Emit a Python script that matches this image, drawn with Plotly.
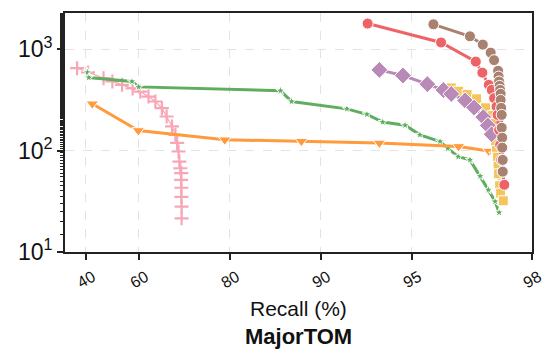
import numpy as np
import plotly.graph_objects as go

# ---- data ----
red_recall = [93.0, 96.0, 96.93, 97.08, 97.22, 97.28, 97.33, 97.38, 97.40, 97.43, 97.45, 97.47, 97.50, 97.53]
red_lat = [1790, 1165, 755, 587, 445, 397, 329, 272, 225, 160, 114, 81, 62, 46]

brown_recall = [95.76, 96.79, 97.09, 97.26, 97.33, 97.41, 97.42, 97.43, 97.44, 97.45, 97.46, 97.46, 97.47, 97.48, 97.48, 97.49, 97.49, 97.50, 97.50]
brown_lat = [1760, 1340, 1110, 925, 780, 612, 537, 480, 435, 397, 363, 316, 264, 225, 168, 134, 107, 81, 62]

purple_recall = [93.6, 94.65, 95.56, 96.07, 96.3, 96.67, 96.89, 97.1, 97.2, 97.28]
purple_lat = [625, 550, 452, 396, 362, 312, 266, 214, 177, 145]

yellow_recall = [96.3, 96.5, 96.72, 96.95, 97.15, 97.3, 97.33, 97.35, 97.36, 97.38, 97.4, 97.41, 97.42, 97.44, 97.46, 97.51]
yellow_lat = [415, 385, 357, 324, 264, 222, 185, 150, 117, 100, 86, 70, 59, 45, 38, 32]

orange_recall = [42.9, 59.8, 79.2, 88.4, 93.6, 96.5, 97.22, 97.35]
orange_lat = [290, 158, 128, 124, 119, 110, 99, 91]

green_recall = [40.8, 41.4, 57.8, 59.9, 86.4, 87.5, 91.8, 92.96, 93.76, 94.74, 95.3, 95.97, 96.2, 96.49, 96.79, 97.03, 97.21, 97.35, 97.43]
green_lat = [590, 525, 480, 425, 390, 305, 258, 228, 191, 178, 143, 123, 105, 87, 81, 56, 41, 31.5, 24.5]

pink_recall = [35.9, 41.0, 47.6, 51.0, 54.5, 58.0, 60.4, 62.8, 64.7, 66.4, 67.6, 68.9, 69.7, 70.1, 70.4, 70.6, 70.8, 71.0, 71.0, 71.05, 71.05, 71.1, 71.1]
pink_lat = [650, 590, 518, 480, 445, 410, 382, 341, 305, 262, 217, 173, 143, 119, 98, 78, 67, 60, 51.5, 43, 35, 28, 21.5]

x_ticks = [40, 60, 80, 90, 95, 98]
x_ticklabels = ["40", "60", "80", "90", "95", "98"]
y_ticks = [10, 100, 1000]
y_ticklabels = ["10<sup>1</sup>", "10<sup>2</sup>", "10<sup>3</sup>"]
x_title = "Recall (%)"
chart_title = "MajorTOM"


def tx(r):
    """Recall axis scale: -log10(100 - recall)."""
    return -np.log10(100.0 - np.asarray(r, dtype=float))


FONT = "Liberation Sans, Arial, Helvetica, sans-serif"
fig = go.Figure()

series = [
    (pink_recall, pink_lat, "#f7a6b6", "cross-thin", 10, 1.2),
    (green_recall, green_lat, "#5fad5f", "star", 7, 3),
    (orange_recall, orange_lat, "#ff9a3d", "triangle-down", 11, 3),
    (yellow_recall, yellow_lat, "#f4c55c", "square", 10, 3),
    (purple_recall, purple_lat, "#b98ab8", "diamond", 13, 3),
    (red_recall, red_lat, "#ee6466", "circle", 11, 3),
    (brown_recall, brown_lat, "#a98170", "circle", 11, 3),
]

for rec, lat, col, sym, size, lw in series:
    if sym == "cross-thin":
        marker = dict(symbol=sym, size=size, color=col, line=dict(color=col, width=2.2))
    else:
        marker = dict(symbol=sym, size=size, color=col, line=dict(color="white", width=1))
    fig.add_trace(go.Scatter(
        x=tx(rec), y=lat, mode="lines+markers",
        line=dict(color=col, width=lw),
        marker=marker, showlegend=False,
    ))

x_left = tx(29.7)
x_right = tx(98.0)

fig.update_xaxes(
    range=[x_left, x_right],
    tickvals=tx(x_ticks), ticktext=x_ticklabels, showticklabels=False,
    ticks="outside", ticklen=6, tickwidth=1.5, tickcolor="#222",
    showline=True, linecolor="#222", linewidth=1.8, mirror=True,
    showgrid=True, gridcolor="#e3e3e3", gridwidth=1, griddash="dash",
    zeroline=False,
)
fig.update_yaxes(
    type="log", range=[1, 3.357],
    tickvals=y_ticks, ticktext=y_ticklabels,
    ticks="outside", ticklen=6, tickwidth=1.5, tickcolor="#222",
    minor=dict(ticks="outside", ticklen=3.5, tickwidth=1, tickcolor="#222", showgrid=False),
    showline=True, linecolor="#222", linewidth=1.8, mirror=True,
    showgrid=True, gridcolor="#e3e3e3", gridwidth=1, griddash="dash",
    zeroline=False,
    tickfont=dict(family=FONT, size=23, color="#111"),
)

annotations = []
for v, lab in zip(x_ticks, x_ticklabels):
    annotations.append(dict(
        x=float(tx(v)), y=0, xref="x", yref="paper", text=lab, showarrow=False,
        textangle=-30, xanchor="center", yanchor="middle", yshift=-27,
        font=dict(family=FONT, size=16, color="#111"),
    ))
annotations.append(dict(
    x=0.5, y=0, xref="paper", yref="paper", text=x_title, showarrow=False,
    xanchor="center", yanchor="middle", yshift=-56,
    font=dict(family=FONT, size=21, color="#111"),
))
annotations.append(dict(
    x=0.5, y=0, xref="paper", yref="paper", text="<b>" + chart_title + "</b>", showarrow=False,
    xanchor="center", yanchor="middle", yshift=-84,
    font=dict(family=FONT, size=22, color="#111"),
))

fig.update_layout(
    width=552, height=350,
    margin=dict(l=65, r=20, t=13, b=98),
    paper_bgcolor="white", plot_bgcolor="white",
    annotations=annotations,
    font=dict(family=FONT),
)

fig.write_html("out.html")
